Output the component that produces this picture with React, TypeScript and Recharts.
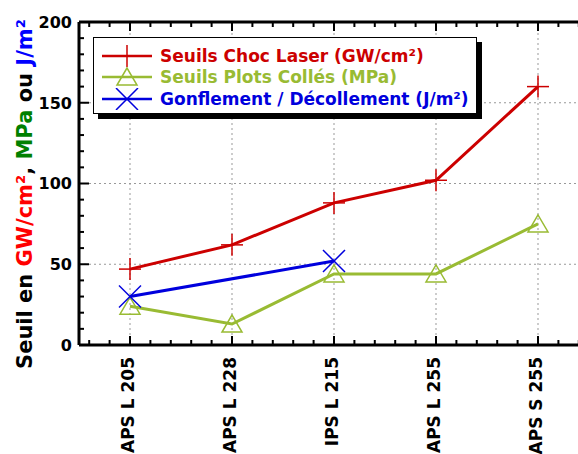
import { LineChart, Line, XAxis, YAxis, ReferenceLine, Legend } from 'recharts'

const categories = ['APS L 205', 'APS L 228', 'IPS L 215', 'APS L 255', 'APS S 255']
const chocLaser = [47, 62, 88, 102, 160]
const plotsColles = [24, 13, 44, 44, 75]
const gonflement = [30, null, 52, null, null]

const yMajorTicks = [0, 50, 100, 150, 200]
const yGridLines = [50, 100, 150]

const SERIES = [
  { key: 'laser', label: 'Seuils Choc Laser (GW/cm²)', color: '#cc0000', marker: 'plus' },
  { key: 'plots', label: 'Seuils Plots Collés (MPa)', color: '#99bb33', marker: 'triangle' },
  { key: 'gonfl', label: 'Gonflement / Décollement (J/m²)', color: '#0000dd', marker: 'cross' },
]

const data = categories.map((name, i) => ({
  x: i,
  name,
  laser: chocLaser[i],
  plots: plotsColles[i],
  gonfl: gonflement[i],
}))

// minor ticks every 0.2 category on x, every 10 units on y
const xTicks: number[] = []
for (let i = -2; i <= 22; i++) xTicks.push(Math.round(i * 2) / 10)
const yTicks: number[] = []
for (let v = 0; v <= 200; v += 10) yTicks.push(v)

const FONT = '"DejaVu Sans", Verdana, sans-serif'
const TICK = '#000'

function Marker({ cx, cy, kind, color }: any) {
  if (cx == null || cy == null) return <g />
  if (kind === 'plus') {
    return (
      <g stroke={color} strokeWidth={1.5}>
        <line x1={cx - 11} y1={cy} x2={cx + 11} y2={cy} />
        <line x1={cx} y1={cy - 11} x2={cx} y2={cy + 11} />
      </g>
    )
  }
  if (kind === 'triangle') {
    return (
      <polygon
        points={`${cx},${cy - 9} ${cx - 10},${cy + 8} ${cx + 10},${cy + 8}`}
        fill="none" stroke={color} strokeWidth={1.5}
      />
    )
  }
  return (
    <g stroke={color} strokeWidth={1.5}>
      <line x1={cx - 11} y1={cy - 11} x2={cx + 11} y2={cy + 11} />
      <line x1={cx - 11} y1={cy + 11} x2={cx + 11} y2={cy - 11} />
    </g>
  )
}

function BottomTick({ x, y, payload }: any) {
  const v = payload.value
  const major = Math.abs(v - Math.round(v)) < 1e-6
  const idx = Math.round(v)
  return (
    <g>
      <line x1={x} y1={y} x2={x} y2={y - (major ? 9 : 5)} stroke={TICK} strokeWidth={2} />
      {major && categories[idx] && (
        <text
          x={x - 2} y={y + 12} transform={`rotate(-90 ${x - 2} ${y + 12})`}
          textAnchor="end" dy="0.36em" fontFamily={FONT} fontWeight="bold" fontSize={17} fill="#000"
        >
          {categories[idx]}
        </text>
      )}
    </g>
  )
}

function TopTick({ x, y, payload }: any) {
  const v = payload.value
  const major = Math.abs(v - Math.round(v)) < 1e-6
  return <line x1={x} y1={y} x2={x} y2={y + (major ? 9 : 5)} stroke={TICK} strokeWidth={2} />
}

function LeftTick({ x, y, payload }: any) {
  const v = payload.value
  const major = yMajorTicks.includes(v)
  return (
    <g>
      <line x1={x} y1={y} x2={x + (major ? 10 : 5)} y2={y} stroke={TICK} strokeWidth={2} />
      {major && (
        <text x={x - 7} y={y} dy="0.36em" textAnchor="end" fontFamily={FONT} fontWeight="bold" fontSize={16} fill="#000">
          {v}
        </text>
      )}
    </g>
  )
}

function YTitle() {
  const cx = 24
  const cy = 194
  return (
    <text
      x={cx} y={cy} transform={`rotate(-90 ${cx} ${cy})`} textAnchor="middle" dy="0.36em"
      fontFamily={FONT} fontWeight="bold" fontSize={21} fill="#000"
    >
      <tspan>Seuil en </tspan>
      <tspan fill="#ff0000">GW/cm²</tspan>
      <tspan>, </tspan>
      <tspan fill="#008000">MPa</tspan>
      <tspan> ou </tspan>
      <tspan fill="#0000ff">J/m²</tspan>
    </text>
  )
}

function LegendBox() {
  return (
    <div
      style={{
        width: 384, height: 77, border: '1.5px solid #000', background: '#fff',
        boxShadow: '5px 5px 0 #000', paddingTop: 7, boxSizing: 'border-box',
      }}
    >
      {SERIES.map(s => (
        <div key={s.key} style={{ display: 'flex', alignItems: 'center', height: 21.5 }}>
          <svg width={66} height={22} style={{ flex: 'none' }}>
            <line x1={8} y1={11} x2={58} y2={11} stroke={s.color} strokeWidth={2.5} />
            <Marker cx={33} cy={11} kind={s.marker} color={s.color} />
          </svg>
          <span style={{ fontFamily: FONT, fontWeight: 'bold', fontSize: 17, color: s.color, whiteSpace: 'nowrap' }}>
            {s.label}
          </span>
        </div>
      ))}
    </div>
  )
}

export default function App() {
  return (
    <div style={{ position: 'absolute', left: 0, top: 0, width: 578, height: 454, overflow: 'hidden', background: '#fff' }}>
      <LineChart width={600} height={454} data={data} margin={{ top: 21, right: 11, bottom: 0, left: 0 }}>
        <XAxis
          xAxisId="main" dataKey="x" type="number" domain={[-0.5, 4.5]} ticks={xTicks} interval={0}
          orientation="bottom" height={109} tickSize={0} tickMargin={0} tickLine={false}
          axisLine={{ stroke: '#000', strokeWidth: 3 }} tick={<BottomTick />}
        />
        <XAxis
          xAxisId="top" dataKey="x" type="number" domain={[-0.5, 4.5]} ticks={xTicks} interval={0}
          orientation="top" height={1} tickSize={0} tickMargin={0} tickLine={false}
          axisLine={{ stroke: '#000', strokeWidth: 3 }} tick={<TopTick />}
        />
        <YAxis
          yAxisId="main" type="number" domain={[0, 200]} ticks={yTicks} interval={0} width={79}
          tickSize={0} tickMargin={0} tickLine={false} axisLine={{ stroke: '#000', strokeWidth: 3 }}
          tick={<LeftTick />} label={<YTitle />}
        />
        {yGridLines.map(v => (
          <ReferenceLine key={'h' + v} xAxisId="main" yAxisId="main" y={v} stroke="#999" strokeDasharray="2 3" />
        ))}
        {categories.map((c, i) => (
          <ReferenceLine key={'v' + c} xAxisId="main" yAxisId="main" x={i} stroke="#999" strokeDasharray="2 3" />
        ))}
        {SERIES.map(s => (
          <Line
            key={s.key} xAxisId="main" yAxisId="main" type="linear" dataKey={s.key} name={s.label}
            stroke={s.color} strokeWidth={3} connectNulls isAnimationActive={false}
            dot={(p: any) => <Marker key={s.key + p.index} cx={p.cx} cy={p.cy} kind={s.marker} color={s.color} />}
            activeDot={false}
          />
        ))}
        <Legend
          layout="vertical" align="center" verticalAlign="middle"
          wrapperStyle={{ left: 93, top: 37, width: 'auto' }}
          content={() => <LegendBox />}
        />
      </LineChart>
    </div>
  )
}
